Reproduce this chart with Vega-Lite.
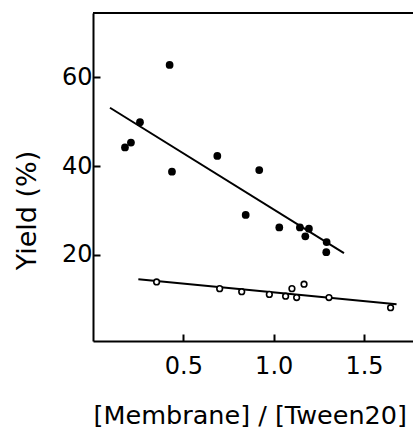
{
  "$schema": "https://vega.github.io/schema/vega-lite/v6.json",
  "width": 320,
  "height": 328,
  "autosize": {"type": "none"},
  "padding": {"left": 93, "top": 13, "right": 0, "bottom": 91},
  "background": "white",
  "config": {
    "view": {"stroke": null},
    "font": "DejaVu Sans",
    "axis": {
      "domainColor": "black",
      "domainWidth": 2,
      "tickColor": "black",
      "tickWidth": 2,
      "ticks": true,
      "grid": false,
      "labelColor": "black",
      "titleColor": "black",
      "labelFont": "DejaVu Sans",
      "titleFont": "DejaVu Sans",
      "titleFontWeight": "normal"
    }
  },
  "datasets": {
    "points": [
      {"x": 0.177, "y": 44.2, "type": "filled"},
      {"x": 0.21, "y": 45.3, "type": "filled"},
      {"x": 0.26, "y": 49.9, "type": "filled"},
      {"x": 0.424, "y": 62.8, "type": "filled"},
      {"x": 0.437, "y": 38.75, "type": "filled"},
      {"x": 0.688, "y": 42.3, "type": "filled"},
      {"x": 0.92, "y": 39.1, "type": "filled"},
      {"x": 0.845, "y": 29.0, "type": "filled"},
      {"x": 1.031, "y": 26.2, "type": "filled"},
      {"x": 1.145, "y": 26.2, "type": "filled"},
      {"x": 1.195, "y": 25.9, "type": "filled"},
      {"x": 1.175, "y": 24.2, "type": "filled"},
      {"x": 1.293, "y": 22.9, "type": "filled"},
      {"x": 1.291, "y": 20.6, "type": "filled"},
      {"x": 0.352, "y": 13.9, "type": "open"},
      {"x": 0.701, "y": 12.4, "type": "open"},
      {"x": 0.823, "y": 11.7, "type": "open"},
      {"x": 0.976, "y": 11.1, "type": "open"},
      {"x": 1.066, "y": 10.7, "type": "open"},
      {"x": 1.101, "y": 12.4, "type": "open"},
      {"x": 1.127, "y": 10.4, "type": "open"},
      {"x": 1.168, "y": 13.4, "type": "open"},
      {"x": 1.306, "y": 10.4, "type": "open"},
      {"x": 1.647, "y": 8.1, "type": "open"}
    ],
    "fits": [
      {"x": 0.094, "y": 53.15, "type": "filled"},
      {"x": 1.389, "y": 20.4, "type": "filled"},
      {"x": 0.251, "y": 14.5, "type": "open"},
      {"x": 1.68, "y": 8.9, "type": "open"}
    ],
    "frame": [{"x": 0}]
  },
  "layer": [
    {
      "data": {"name": "fits"},
      "mark": {"type": "line", "color": "black", "strokeWidth": 2},
      "encoding": {
        "x": {
          "field": "x", "type": "quantitative",
          "scale": {"domain": [0, 1.771], "nice": false, "zero": false},
          "axis": {
            "values": [0.5, 1.0, 1.5], "format": ".1f",
            "labelFontSize": 24, "tickSize": -7, "labelPadding": 20,
            "title": "[Membrane] / [Tween20]",
            "titleFontSize": 25.5,
            "titleAnchor": "start", "titleAlign": "left", "titleX": 0, "titleY": 62, "titleBaseline": "top"
          }
        },
        "y": {
          "field": "y", "type": "quantitative",
          "scale": {"domain": [0.6, 74.5], "nice": false, "zero": false},
          "axis": {
            "values": [20, 40, 60],
            "labelFontSize": 24, "tickSize": -7, "labelPadding": 8,
            "title": "Yield (%)",
            "titleFontSize": 27,
            "titleAnchor": "middle", "titleAngle": -90, "titleX": -52, "titleY": 197, "titleBaseline": "bottom"
          }
        },
        "detail": {"field": "type"}
      }
    },
    {
      "data": {"name": "frame"},
      "mark": {"type": "rule", "color": "black", "strokeWidth": 2},
      "encoding": {
        "x": {"datum": 0, "type": "quantitative"},
        "x2": {"datum": 1.771},
        "y": {"datum": 74.5, "type": "quantitative"}
      }
    },
    {
      "data": {"name": "points"},
      "transform": [{"filter": "datum.type === 'filled'"}],
      "mark": {"type": "point", "filled": true, "color": "black", "size": 60, "opacity": 1},
      "encoding": {
        "x": {"field": "x", "type": "quantitative"},
        "y": {"field": "y", "type": "quantitative"}
      }
    },
    {
      "data": {"name": "points"},
      "transform": [{"filter": "datum.type === 'open'"}],
      "mark": {"type": "point", "filled": true, "fill": "white", "stroke": "black", "strokeWidth": 1.6, "size": 32, "opacity": 1},
      "encoding": {
        "x": {"field": "x", "type": "quantitative"},
        "y": {"field": "y", "type": "quantitative"}
      }
    }
  ]
}
